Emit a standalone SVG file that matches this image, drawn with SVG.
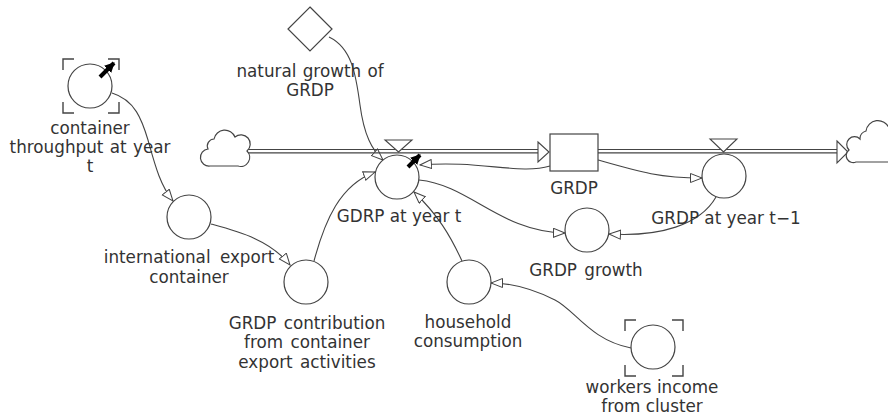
<svg xmlns="http://www.w3.org/2000/svg" width="888" height="415" viewBox="0 0 888 415">
<defs>
<style>
.node{fill:#fff;stroke:#444;stroke-width:1.2}
.lbl{font-family:"DejaVu Sans",Verdana,sans-serif;font-size:16.8px;fill:#333;text-anchor:middle}
.con{fill:none;stroke:#444;stroke-width:1.1;marker-end:url(#ah)}
.flow{fill:none;stroke:#444;stroke-width:1.2}
.brk{fill:none;stroke:#444;stroke-width:1.4}
.dyn{stroke:#000;stroke-width:4;marker-end:url(#bh)}
</style>
<marker id="ah" markerUnits="userSpaceOnUse" markerWidth="14" markerHeight="12" refX="12" refY="5" orient="auto">
<path d="M0.5,0.5 L12,5 L0.5,9.5 Z" fill="#fff" stroke="#444" stroke-width="1"/>
</marker>
<marker id="bh" markerUnits="userSpaceOnUse" markerWidth="12" markerHeight="12" refX="9" refY="5" orient="auto">
<path d="M0,0 L10,5 L0,10 Z" fill="#000"/>
</marker>
</defs>
<rect width="888" height="415" fill="#fff"/>

<g id="connectors">
<path class="con" d="M329,37 C352,48 356,75 360,105 C364,135 372,150 383,160"/>
<path class="con" d="M112,93 C135,100 142,120 148,140 C155,165 160,185 173,201"/>
<path class="con" d="M211,224 C240,232 270,240 290,265"/>
<path class="con" d="M314,261 C325,220 340,185 375,172"/>
<path class="con" d="M462,261 C450,235 438,215 414,192"/>
<path class="con" d="M631,348 C590,340 575,310 555,300 C535,290 515,283 491,283"/>
<path class="con" d="M550,166 C520,175 480,160 420,165"/>
<path class="con" d="M419,180 C470,185 500,232 565,233"/>
<path class="con" d="M598,160 C640,172 660,178 702,178"/>
<path class="con" d="M716,197 C700,225 660,237 609,234"/>
</g>

<g id="flows">
<line class="flow" x1="247" y1="149.5" x2="538" y2="149.5"/>
<line class="flow" x1="247" y1="152.8" x2="538" y2="152.8"/>
<line class="flow" x1="598" y1="149.5" x2="837" y2="149.5"/>
<line class="flow" x1="598" y1="152.8" x2="837" y2="152.8"/>
<path d="M538,142 L549,152 L538,162 Z" fill="#fff" stroke="#444" stroke-width="1.1"/>
<path d="M837,141 L848,152 L837,163 Z" fill="#fff" stroke="#444" stroke-width="1.1"/>
</g>

<g id="cloud-source">
<path class="node" d="M210,166 H238 A9,9 0 0 0 247,151 A9,9 0 0 0 235,137 A11,11 0 0 0 214,139 A7,7 0 0 0 208,149 A8.5,8.5 0 0 0 210,166 Z"/>
</g>
<g id="cloud-sink">
<path class="node" d="M892,162 H856 A7,7 0 0 1 849,150 A7,7 0 0 1 860,139 A8,8 0 0 1 866,131 A12,12 0 0 1 889,128"/>
</g>

<g id="grdp-stock">
<rect class="node" x="550" y="134" width="48" height="37"/>
<text class="lbl" x="574" y="194">GRDP</text>
</g>

<g id="gdrp-at-year-t">
<path d="M385,140 H412 L398.5,152 Z" fill="#fff" stroke="#444" stroke-width="1.1"/>
<circle class="node" cx="397" cy="177" r="22"/>
<line class="dyn" x1="408" y1="167" x2="420" y2="155"/>
<text class="lbl" x="399" y="222">GDRP at year t</text>
</g>

<g id="grdp-at-year-t-1">
<path d="M710,139 H737 L723.5,152 Z" fill="#fff" stroke="#444" stroke-width="1.1"/>
<circle class="node" cx="724" cy="176" r="22"/>
<text class="lbl" x="726" y="224">GRDP at year t−1</text>
</g>

<g id="grdp-growth">
<circle class="node" cx="587" cy="230" r="22"/>
<text class="lbl" x="586" y="276" word-spacing="2">GRDP growth</text>
</g>

<g id="natural-growth">
<path class="node" d="M310,7 L332,29 L310,51 L288,29 Z"/>
<text class="lbl" x="310" y="77" word-spacing="1">natural growth of</text>
<text class="lbl" x="310" y="96">GRDP</text>
</g>

<g id="container-throughput">
<path class="brk" d="M63,70 V59 H74 M108,59 H119 V70 M63,102 V113 H74 M108,113 H119 V102"/>
<circle class="node" cx="90" cy="86" r="22"/>
<line class="dyn" x1="100" y1="77" x2="114" y2="63"/>
<text class="lbl" x="90" y="134">container</text>
<text class="lbl" x="90" y="153" word-spacing="1">throughput at year</text>
<text class="lbl" x="90" y="172">t</text>
</g>

<g id="international-export">
<circle class="node" cx="189" cy="217" r="22"/>
<text class="lbl" x="189" y="263" word-spacing="4">international export</text>
<text class="lbl" x="189" y="283">container</text>
</g>

<g id="grdp-contribution">
<circle class="node" cx="306" cy="282" r="22"/>
<text class="lbl" x="307" y="329" word-spacing="2">GRDP contribution</text>
<text class="lbl" x="307" y="348" word-spacing="2">from container</text>
<text class="lbl" x="307" y="368" word-spacing="2">export activities</text>
</g>

<g id="household-consumption">
<circle class="node" cx="469" cy="282" r="22"/>
<text class="lbl" x="468" y="328">household</text>
<text class="lbl" x="468" y="347">consumption</text>
</g>

<g id="workers-income">
<path class="brk" d="M625,331 V320 H636 M672,320 H683 V331 M625,365 V376 H636 M672,376 H683 V365"/>
<circle class="node" cx="653" cy="347" r="22"/>
<text class="lbl" x="652" y="393">workers income</text>
<text class="lbl" x="652" y="412">from cluster</text>
</g>
</svg>
